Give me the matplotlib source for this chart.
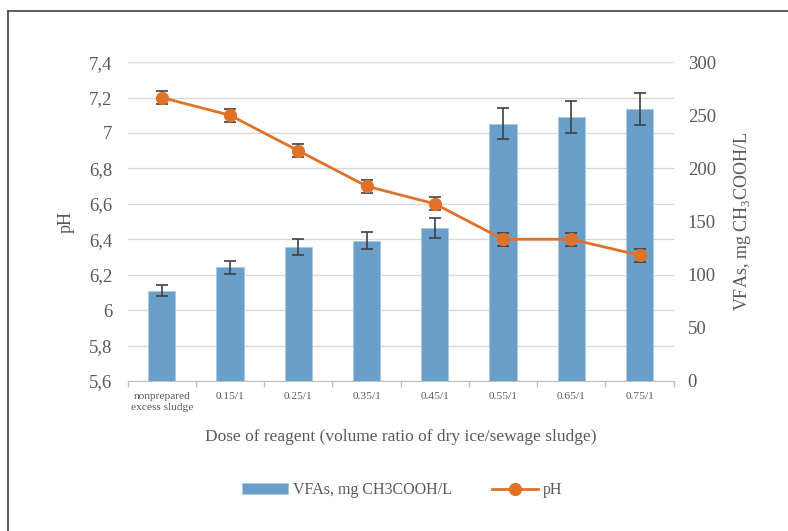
import matplotlib
matplotlib.use('Agg')
import matplotlib.pyplot as plt
from matplotlib.ticker import FuncFormatter, MultipleLocator
from matplotlib.lines import Line2D
import numpy as np

# data
doses = ['nonprepared\nexcess sludge', '0.15/1', '0.25/1', '0.35/1',
         '0.45/1', '0.55/1', '0.65/1', '0.75/1']
vfa = [85, 107, 126, 132, 144, 242, 248, 256]
vfa_err = [5.5, 6, 7.7, 8, 9, 14.6, 15, 15.4]
ph = [7.2, 7.1, 6.9, 6.7, 6.6, 6.4, 6.4, 6.31]
ph_err = [0.038, 0.037, 0.037, 0.037, 0.037, 0.037, 0.037, 0.037]

plt.rcParams['font.family'] = ['Liberation Serif', 'DejaVu Serif']
plt.rcParams['mathtext.fontset'] = 'custom'
plt.rcParams['mathtext.rm'] = 'Liberation Serif'
gray = '#595959'
blue = '#6a9fca'
orange = '#e07128'

fig = plt.figure(figsize=(7.88, 5.31), dpi=100)
ax = fig.add_axes([0.162, 0.2825, 0.693, 0.6005])
x = np.arange(len(doses))

# left axis: pH scale + gridlines
ax.set_ylim(5.6, 7.4)
ax.yaxis.set_major_locator(MultipleLocator(0.2))
ax.yaxis.set_major_formatter(FuncFormatter(lambda v, p: f'{round(v, 1):g}'.replace('.', ',')))
ax.grid(axis='y', color='#d9d9d9', linewidth=1)
ax.set_xlim(-0.5, 7.5)
ax.set_xticks(x)
ax.set_xticklabels(doses, fontsize=8.2, color=gray, linespacing=1.3)
ax.set_xticks(np.arange(-0.5, 8, 1), minor=True)
ax.tick_params(axis='x', which='major', length=0, pad=8)
ax.tick_params(axis='x', which='minor', length=4, color='#bfbfbf', width=1)
ax.tick_params(axis='y', length=0, labelsize=13.5, labelcolor=gray, pad=11)
for s in ['top', 'left', 'right']:
    ax.spines[s].set_visible(False)
ax.spines['bottom'].set_color('#bfbfbf')
ax.set_ylabel('pH', fontsize=13, color=gray, labelpad=10)
ax.set_xlabel('Dose of reagent (volume ratio of dry ice/sewage sludge)',
              fontsize=12.5, color=gray, labelpad=12)

# right axis: VFAs bars
ax2 = ax.twinx()
ax2.set_ylim(0, 300)
ax2.yaxis.set_major_locator(MultipleLocator(50))
bars = ax2.bar(x, vfa, width=0.4, color=blue, edgecolor='#a9c8e3', linewidth=0.6,
               label='VFAs, mg CH3COOH/L', zorder=2)
ax2.errorbar(x, vfa, yerr=vfa_err, fmt='none', ecolor='#404040', elinewidth=1.2,
             capsize=4, capthick=1.2, zorder=3)
ax2.tick_params(axis='y', length=0, labelsize=13.5, labelcolor=gray, pad=10)
for s in ax2.spines.values():
    s.set_visible(False)
ax2.set_ylabel(r'VFAs, mg CH$_\mathregular{3}$COOH/L', fontsize=13, color=gray, labelpad=12)

# pH line on top
ax3 = ax.twinx()
ax3.set_ylim(5.6, 7.4)
ax3.axis('off')
ax3.errorbar(x, ph, yerr=ph_err, fmt='none', ecolor='#404040', elinewidth=1.2,
             capsize=4, capthick=1.2, zorder=2)
line, = ax3.plot(x, ph, color=orange, linewidth=2, marker='o', markersize=8.5,
                 label='pH', zorder=3)

fig.legend([bars, line], ['VFAs, mg CH3COOH/L', 'pH'], loc='center',
           bbox_to_anchor=(0.51, 0.077), ncol=2, frameon=False, fontsize=11.5,
           labelcolor=gray, handlelength=2.9, handletextpad=0.3, columnspacing=2.5)

# outer frame (top and left edges only visible)
fig.add_artist(Line2D([8 / 788, 1], [1 - 11 / 531, 1 - 11 / 531], color='#404040', linewidth=1.2))
fig.add_artist(Line2D([8 / 788, 8 / 788], [0, 1 - 11 / 531], color='#404040', linewidth=1.2))

fig.savefig('out.png', dpi=100)
